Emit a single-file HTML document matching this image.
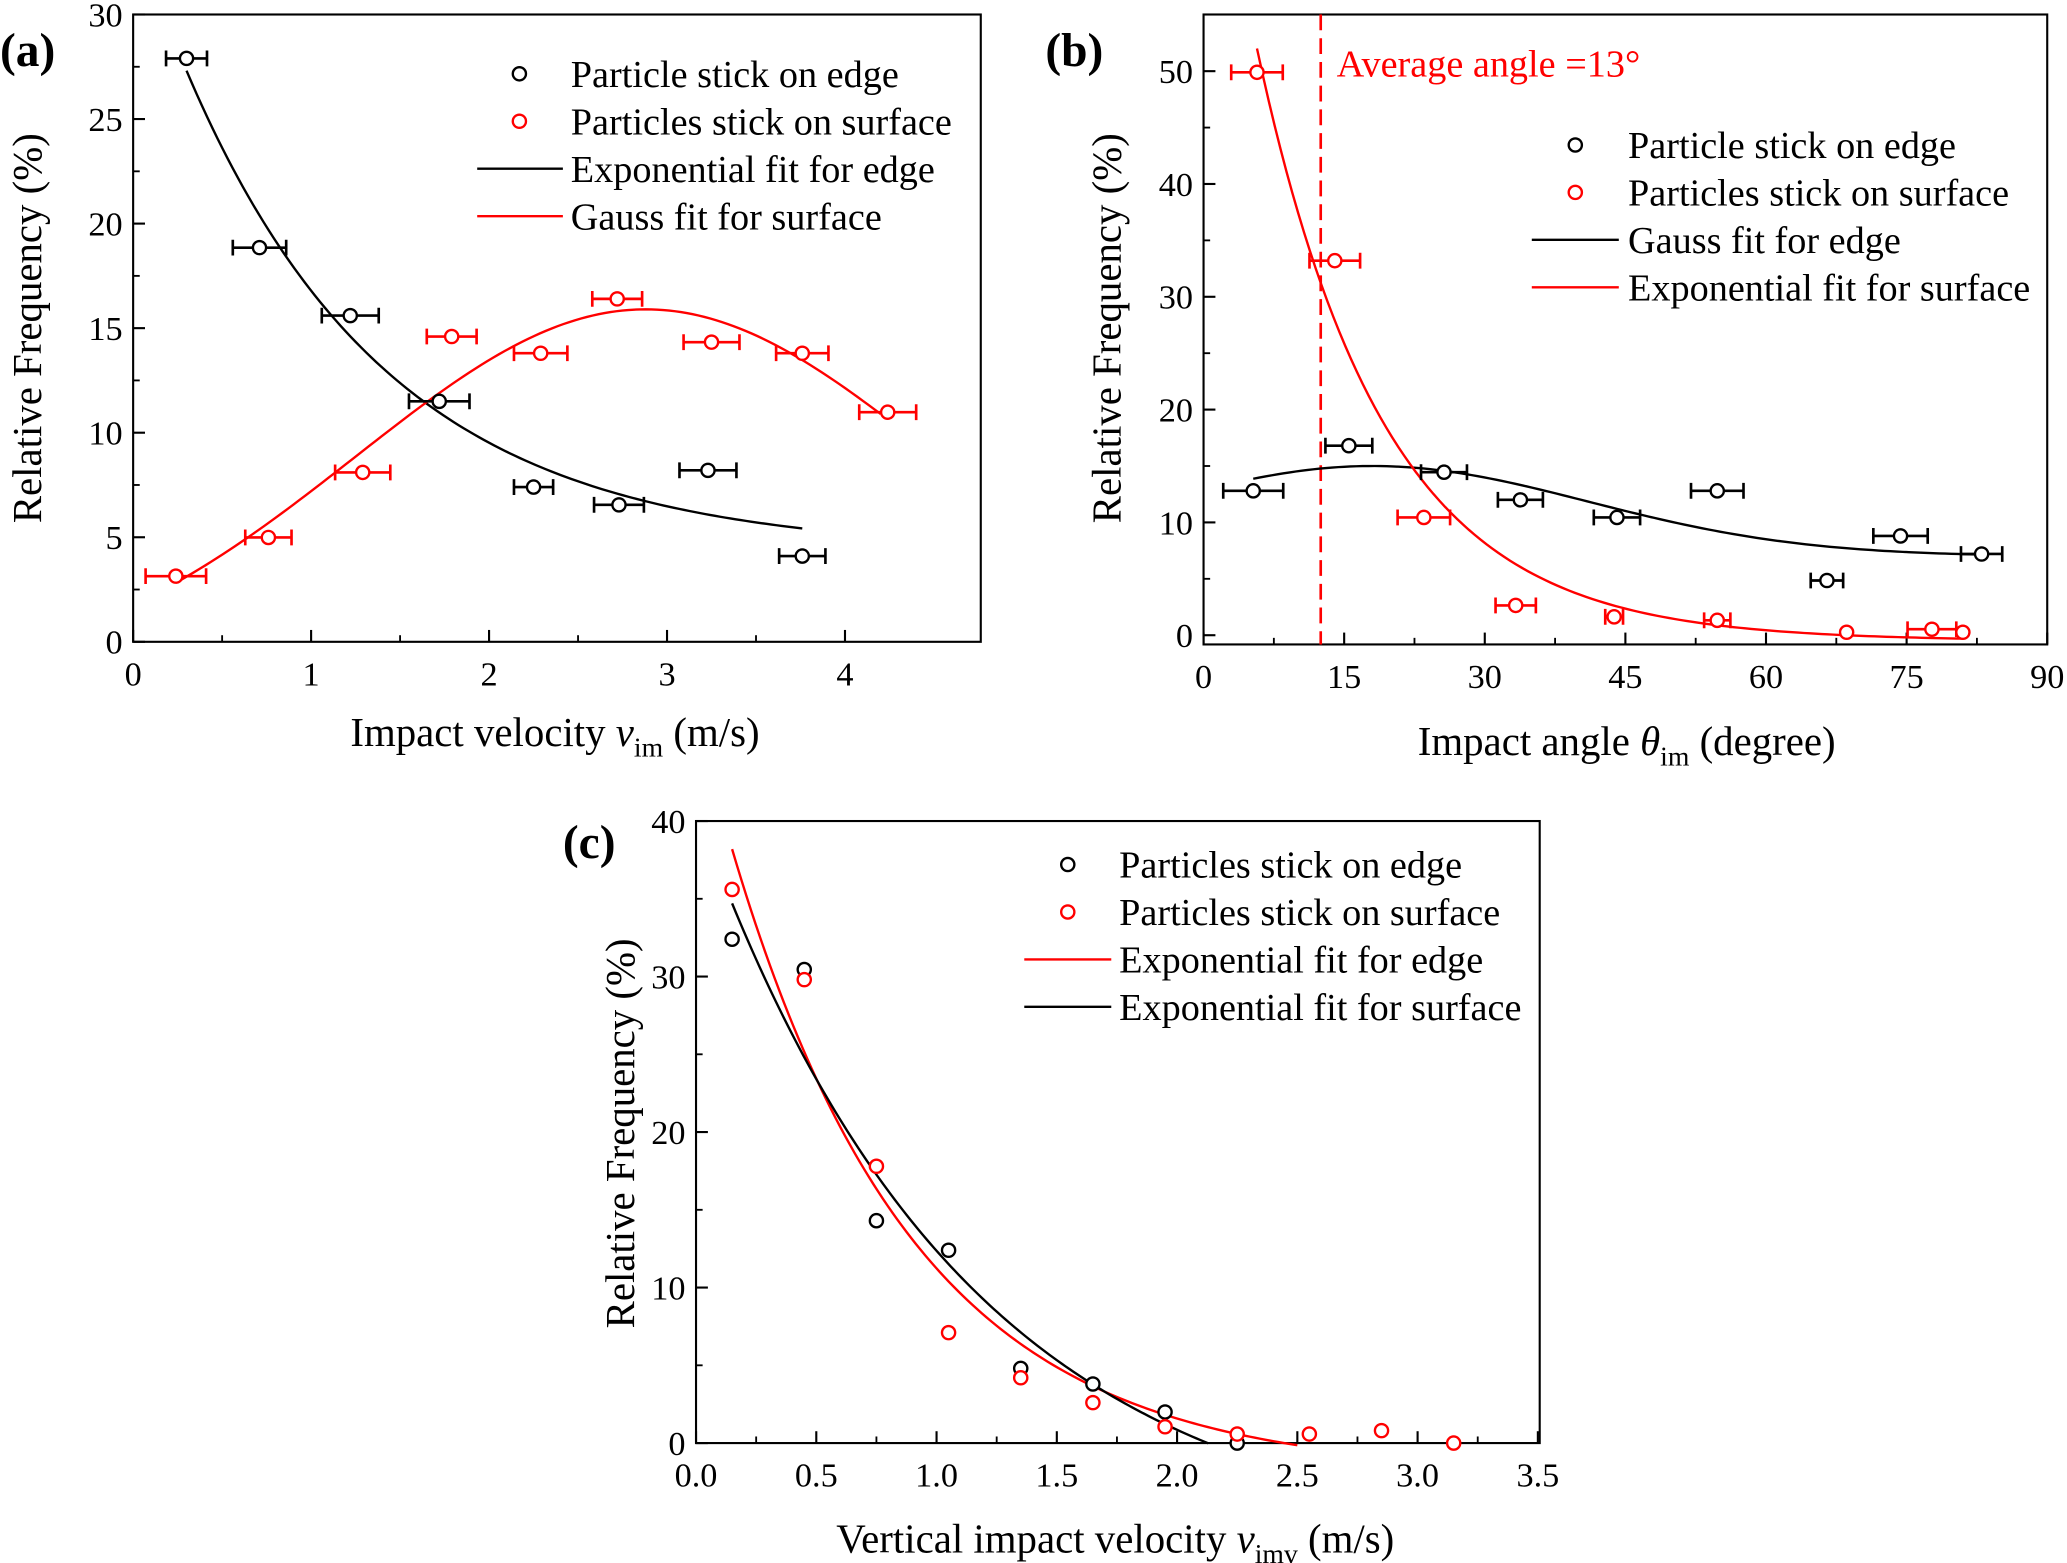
<!DOCTYPE html>
<html><head><meta charset="utf-8"><style>
html,body{margin:0;padding:0;background:#fff;}
svg{display:block;font-family:"Liberation Serif",serif;}
</style></head><body>
<svg id="fig" width="2067" height="1563" viewBox="0 0 1568 1186" preserveAspectRatio="none" xmlns="http://www.w3.org/2000/svg">
<rect width="1568" height="1186" fill="#fff"/>
</svg>
<script>
// ---------- Panel (a) data ----------
const aEdgeX=[0.30,0.71,1.22,1.72,2.25,2.73,3.23,3.76];
const aEdgeY=[27.9,18.85,15.6,11.5,7.4,6.55,8.2,4.1];
const aEdgeErr=[0.115,0.15,0.16,0.17,0.11,0.14,0.16,0.13];
const aSurfX=[0.24,0.76,1.29,1.79,2.29,2.72,3.25,3.76,4.24];
const aSurfY=[3.14,4.99,8.1,14.6,13.8,16.4,14.33,13.8,10.98];
const aSurfErr=[0.17,0.13,0.155,0.14,0.15,0.14,0.157,0.147,0.16];
const aExpFit=[4.3,29.9,1.146]; // y0, A, t
const aExpRange=[0.3,3.76];
const aGaussFit=[-2,17.9,2.88,1.63]; // y0, A, xc, w
const aGaussRange=[0.24,4.2];
const aXTicks=[0,1,2,3,4];
const aYTicks=[0,5,10,15,20,25,30];
// ---------- Panel (b) data ----------
const bEdgeX=[5.3,15.5,25.65,33.8,44.1,54.8,66.5,74.35,83.0];
const bEdgeY=[12.8,16.8,14.45,12.0,10.44,12.8,4.85,8.8,7.2];
const bEdgeErr=[3.2,2.5,2.45,2.4,2.47,2.8,1.73,2.9,2.2];
const bSurfX=[5.7,14.0,23.5,33.3,43.8,54.8,68.6,77.7,81.0];
const bSurfY=[49.9,33.2,10.44,2.64,1.63,1.32,0.26,0.53,0.26];
const bSurfErr=[2.75,2.7,2.8,2.15,0.95,1.4,0,2.6,0];
const bGaussFit=[7,8,18,23];
const bGaussRange=[5.3,83];
const bExpFit=[-0.5,80.1,13.5];
const bExpRange=[5.7,81];
const bAvgAngle=[12.5];
const bXTicks=[0,15,30,45,60,75,90];
const bYTicks=[0,10,20,30,40,50];
// ---------- Panel (c) data ----------
const cX=[0.15,0.45,0.75,1.05,1.35,1.65,1.95,2.25];
const cEdgeY=[32.4,30.45,14.3,12.4,4.8,3.8,2.0,0.0];
const cSurfX=[0.15,0.45,0.75,1.05,1.35,1.65,1.95,2.25,2.55,2.85,3.15];
const cSurfY=[35.6,29.8,17.8,7.1,4.2,2.6,1.05,0.58,0.58,0.8,0.0];
const cRedFit=[-2,48.9,0.765];
const cRedRange=[0.15,2.5];
const cBlackFit=[-7,47.75,1.108];
const cBlackRange=[0.15,2.13];
const cXTicks=["0.0","0.5","1.0","1.5","2.0","2.5","3.0","3.5"];
const cYTicks=[0,10,20,30,40];

const NS="http://www.w3.org/2000/svg";
const svg=document.getElementById('fig');
function mk(tag,attrs,parent,name){
  const e=document.createElementNS(NS,tag);
  for(const k in attrs)e.setAttribute(k,attrs[k]);
  
  
  (parent||svg).appendChild(e);return e;
}
function txt(s,x,y,size,parent,name,opts){
  opts=opts||{};
  const t=mk('text',{x:x,y:y,'font-size':size,fill:opts.fill||'#000','text-anchor':opts.anchor||'start'},parent,name);
  if(opts.weight)t.setAttribute('font-weight',opts.weight);
  if(opts.transform)t.setAttribute('transform',opts.transform);
  t.textContent=s;return t;
}
function panel(cfg){
  const g=mk('g',{},svg,cfg.name);
  const sx=v=>cfg.L+(v-cfg.xmin)/(cfg.xmax-cfg.xmin)*(cfg.R-cfg.L);
  const sy=v=>cfg.B-(v-cfg.ymin)/(cfg.ymax-cfg.ymin)*(cfg.B-cfg.T);
  mk('rect',{x:cfg.L,y:cfg.T,width:cfg.R-cfg.L,height:cfg.B-cfg.T,fill:'none',stroke:'#000','stroke-width':1.6},g,'plot-frame');
  cfg.xticks.forEach((t,i)=>{
    const v=parseFloat(t);const x=sx(v);
    mk('line',{x1:x,y1:cfg.B,x2:x,y2:cfg.B-9,stroke:'#000','stroke-width':1.6},g,'x-tick');
    txt(String(t),x,cfg.B+33,26,g,'x-tick-label',{anchor:'middle'});
    if(i<cfg.xticks.length-1){const xm=sx(v+cfg.xstep/2);
      if(xm<cfg.R-1)mk('line',{x1:xm,y1:cfg.B,x2:xm,y2:cfg.B-5,stroke:'#000','stroke-width':1.4},g,'x-minor-tick');}
  });
  cfg.yticks.forEach((t,i)=>{
    const y=sy(t);
    mk('line',{x1:cfg.L,y1:y,x2:cfg.L+9,y2:y,stroke:'#000','stroke-width':1.6},g,'y-tick');
    txt(String(t),cfg.L-8,y+9,26,g,'y-tick-label',{anchor:'end'});
    const ym=sy(t+cfg.ystep/2);
    if(ym>cfg.T+1)mk('line',{x1:cfg.L,y1:ym,x2:cfg.L+5,y2:ym,stroke:'#000','stroke-width':1.4},g,'y-minor-tick');
  });
  return {g,sx,sy};
}
function curve(p,f,range,color,name){
  let d='';const n=120;
  for(let i=0;i<=n;i++){const x=range[0]+(range[1]-range[0])*i/n;d+=(i?'L':'M')+p.sx(x).toFixed(2)+','+p.sy(f(x)).toFixed(2);}
  mk('path',{d:d,fill:'none',stroke:color,'stroke-width':1.8},p.g,name);
}
function points(p,xs,ys,errs,color,name){
  xs.forEach((xv,i)=>{
    const x=p.sx(xv),y=p.sy(ys[i]);
    if(errs&&errs[i]>0){
      const x1=p.sx(xv-errs[i]),x2=p.sx(xv+errs[i]);
      mk('path',{d:`M${x1},${y}H${x2}M${x1},${y-6}V${y+6}M${x2},${y-6}V${y+6}`,stroke:color,'stroke-width':2,fill:'none'},p.g,name+'-errorbar');
    }
    mk('circle',{cx:x,cy:y,r:5,fill:'#fff',stroke:color,'stroke-width':1.8},p.g,name+'-point');
  });
}
function legend(g,mx,x1,x2,tx,ys,items){
  items.forEach((it,i)=>{
    const y=ys[i];
    if(it.type==='m')mk('circle',{cx:mx,cy:y,r:5,fill:'#fff',stroke:it.c,'stroke-width':1.8},g,'legend-marker');
    else mk('line',{x1:x1,y1:y,x2:x2,y2:y,stroke:it.c,'stroke-width':1.8},g,'legend-line');
    txt(it.t,tx,y+10,29,g,'legend-entry');
  });
}
const expF=p=>x=>p[0]+p[1]*Math.exp(-x/p[2]);
const gauF=p=>x=>p[0]+p[1]*Math.exp(-Math.pow(x-p[2],2)/(2*p[3]*p[3]));

// ---- Panel a ----
const pa=panel({name:'panel-a',L:101,R:744,T:11,B:487,xmin:0,xmax:(744-101)/135,ymin:0,ymax:30,xticks:aXTicks,xstep:1,yticks:aYTicks,ystep:5});
curve(pa,expF(aExpFit),aExpRange,'#000','edge-exponential-fit');
curve(pa,gauF(aGaussFit),aGaussRange,'#f00','surface-gauss-fit');
points(pa,aEdgeX,aEdgeY,aEdgeErr,'#000','edge');
points(pa,aSurfX,aSurfY,aSurfErr,'#f00','surface');
legend(pa.g,394,362,427,433,[56,92,128,164],[{type:'m',c:'#000',t:'Particle stick on edge'},{type:'m',c:'#f00',t:'Particles stick on surface'},{type:'l',c:'#000',t:'Exponential fit for edge'},{type:'l',c:'#f00',t:'Gauss fit for surface'}]);
txt('(a)',0,50,36,pa.g,'panel-label-a',{weight:'bold'});
txt('Relative Frequency (%)',31,249,31,pa.g,'y-axis-title',{anchor:'middle',transform:'rotate(-90 31 249)'});
(function(){const t=mk('text',{x:421,y:566,'font-size':31,'text-anchor':'middle'},pa.g,'x-axis-title');
t.innerHTML='Impact velocity <tspan font-style="italic">v</tspan><tspan font-size="21" dy="8">im</tspan><tspan dy="-8"> (m/s)</tspan>';})();

// ---- Panel b ----
const pb=panel({name:'panel-b',L:913,R:1553,T:11,B:489,xmin:0,xmax:90,ymin:(482-489)/8.56,ymax:(482-11)/8.56,xticks:bXTicks,xstep:15,yticks:bYTicks,ystep:10});
const xa=pb.sx(bAvgAngle[0]);
mk('line',{x1:xa,y1:11,x2:xa,y2:489,stroke:'#f00','stroke-width':2,'stroke-dasharray':'12,6'},pb.g,'average-angle-line');
txt('Average angle =13°',1014,58,29,pb.g,'average-angle-label',{fill:'#f00'});
curve(pb,gauF(bGaussFit),bGaussRange,'#000','edge-gauss-fit');
curve(pb,expF(bExpFit),bExpRange,'#f00','surface-exponential-fit');
points(pb,bEdgeX,bEdgeY,bEdgeErr,'#000','edge');
points(pb,bSurfX,bSurfY,bSurfErr,'#f00','surface');
legend(pb.g,1195,1162,1228,1235,[110,146,182,218],[{type:'m',c:'#000',t:'Particle stick on edge'},{type:'m',c:'#f00',t:'Particles stick on surface'},{type:'l',c:'#000',t:'Gauss fit for edge'},{type:'l',c:'#f00',t:'Exponential fit for surface'}]);
txt('(b)',793,50,36,pb.g,'panel-label-b',{weight:'bold'});
txt('Relative Frequency (%)',850,249,31,pb.g,'y-axis-title',{anchor:'middle',transform:'rotate(-90 850 249)'});
(function(){const t=mk('text',{x:1234,y:573,'font-size':31,'text-anchor':'middle'},pb.g,'x-axis-title');
t.innerHTML='Impact angle <tspan font-style="italic">θ</tspan><tspan font-size="21" dy="8">im</tspan><tspan dy="-8"> (degree)</tspan>';})();

// ---- Panel c ----
const pc=panel({name:'panel-c',L:528,R:1168,T:623,B:1095,xmin:0,xmax:3.5*(1168-528)/(1166.6-528),ymin:0,ymax:40,xticks:cXTicks,xstep:0.5,yticks:cYTicks,ystep:10});
curve(pc,expF(cRedFit),cRedRange,'#f00','edge-exponential-fit');
curve(pc,expF(cBlackFit),cBlackRange,'#000','surface-exponential-fit');
points(pc,cX,cEdgeY,null,'#000','edge');
points(pc,cSurfX,cSurfY,null,'#f00','surface');
legend(pc.g,810,777,843,849,[656,692,728,764],[{type:'m',c:'#000',t:'Particles stick on edge'},{type:'m',c:'#f00',t:'Particles stick on surface'},{type:'l',c:'#f00',t:'Exponential fit for edge'},{type:'l',c:'#000',t:'Exponential fit for surface'}]);
txt('(c)',427,651,36,pc.g,'panel-label-c',{weight:'bold'});
txt('Relative Frequency (%)',481,860,31,pc.g,'y-axis-title',{anchor:'middle',transform:'rotate(-90 481 860)'});
(function(){const t=mk('text',{x:846,y:1178,'font-size':31,'text-anchor':'middle'},pc.g,'x-axis-title');
t.innerHTML='Vertical impact velocity <tspan font-style="italic">v</tspan><tspan font-size="21" dy="8">imv</tspan><tspan dy="-8"> (m/s)</tspan>';})();
</script>
</body></html>
